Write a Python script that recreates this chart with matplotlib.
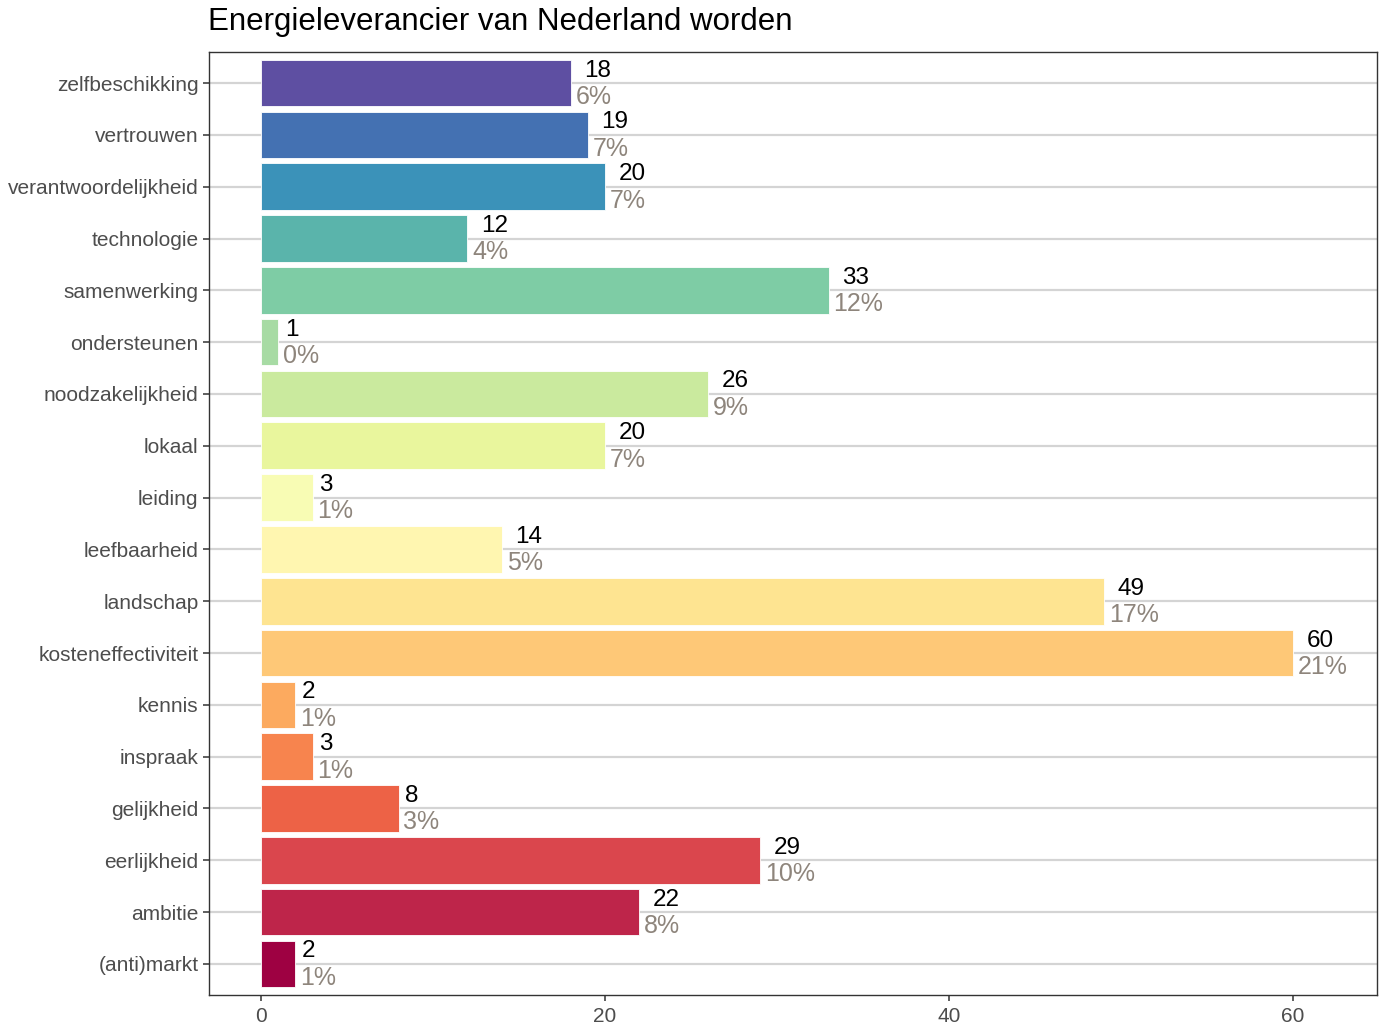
import numpy as np
import matplotlib.pyplot as plt
from matplotlib import cm

plt.rcParams["font.family"] = ["Liberation Sans", "DejaVu Sans"]

# data (bottom to top)
categories = ["(anti)markt", "ambitie", "eerlijkheid", "gelijkheid", "inspraak",
              "kennis", "kosteneffectiviteit", "landschap", "leefbaarheid",
              "leiding", "lokaal", "noodzakelijkheid", "ondersteunen",
              "samenwerking", "technologie", "verantwoordelijkheid",
              "vertrouwen", "zelfbeschikking"]
counts = [2, 22, 29, 8, 3, 2, 60, 49, 14, 3, 20, 26, 1, 33, 12, 20, 19, 18]
pct_labels = ["1%", "8%", "10%", "3%", "1%", "1%", "21%", "17%", "5%",
              "1%", "7%", "9%", "0%", "12%", "4%", "7%", "7%", "6%"]
title = "Energieleverancier van Nederland worden"

y = np.arange(len(categories))
colors = cm.Spectral(np.linspace(0, 1, len(categories)))

fig = plt.figure(figsize=(13.85, 10.28), dpi=100)
ax = fig.add_axes([209 / 1385, 1 - 995 / 1028, (1377 - 209) / 1385, (995 - 52) / 1028])

for yy in y:
    ax.axhline(yy, color="#D4D4D4", lw=1.6, zorder=0)

ax.barh(y, counts, height=0.9, color=colors, edgecolor="white", linewidth=0.6, zorder=2)

for yy, c, p in zip(y, counts, pct_labels):
    s = str(c)
    # count label pushed right by half its own width (like hjust = -0.5)
    ax.annotate(s, (c, yy), xytext=(4.9 * len(s), 9), textcoords="offset points",
                ha="left", va="center", fontsize=17.5, color="black", zorder=3)
    ax.annotate(p, (c, yy), xytext=(3.5, -10), textcoords="offset points",
                ha="left", va="center", fontsize=18, color="#8E857C", zorder=3)

ax.set_xlim(-3.02, 64.88)
ax.set_ylim(-0.6, len(categories) - 0.4)
ax.set_yticks(y)
ax.set_yticklabels(categories)
ax.set_xticks([0, 20, 40, 60])
ax.tick_params(axis="both", labelsize=15, colors="#333333", labelcolor="#4D4D4D",
               length=4, width=1.1)
ax.tick_params(axis="x", pad=5)
for sp in ax.spines.values():
    sp.set_color("#333333")
    sp.set_linewidth(1)

fig.text(208 / 1385, 1 - 22 / 1028, title, fontsize=22.5, ha="left", va="center")

fig.savefig("out.png", dpi=100)
